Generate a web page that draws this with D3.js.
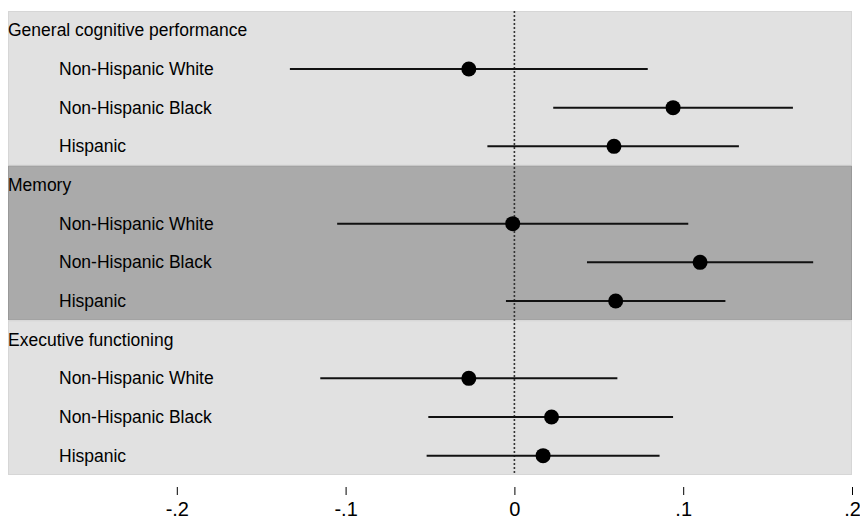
<!DOCTYPE html>
<html><head><meta charset="utf-8">
<script src="https://cdn.jsdelivr.net/npm/d3@7"></script>
<style>body{margin:0;background:#fff}svg{display:block}text{font-family:"Liberation Sans",Arial,sans-serif}</style>
</head><body><svg id="c" width="860" height="519"></svg>
<script>
const groups = ["General cognitive performance", "Memory", "Executive functioning"];
const races = ["Non-Hispanic White", "Non-Hispanic Black", "Hispanic"];
const estimates = [
  [-0.027, 0.094, 0.059],
  [-0.001, 0.110, 0.060],
  [-0.027, 0.022, 0.017]
];
const lower = [
  [-0.133, 0.023, -0.016],
  [-0.105, 0.043, -0.005],
  [-0.115, -0.051, -0.052]
];
const upper = [
  [0.079, 0.165, 0.133],
  [0.103, 0.177, 0.125],
  [0.061, 0.094, 0.086]
];
const tickValues = [-0.2, -0.1, 0, 0.1, 0.2];
const tickLabels = ["-.2", "-.1", "0", ".1", ".2"];
const panelFill = ["#e1e1e1", "#aaaaaa", "#e1e1e1"];
const panelStroke = ["#d6d6d6", "#999999", "#d6d6d6"];

const svg = d3.select("#c");
const pLeft = 8, pRight = 852, pTop = 11, pBottom = 475;
const x = d3.scaleLinear().domain([-0.3, 0.2]).range([pLeft, pRight]);
const rowsPerPanel = races.length + 1;
const nRows = groups.length * rowsPerPanel;
const y = d3.scaleBand().domain(d3.range(nRows)).range([pTop, pBottom]).paddingInner(0).paddingOuter(0);
const rowH = y.bandwidth();

groups.forEach((g, gi) => {
  const r0 = gi * rowsPerPanel;
  const py0 = y(r0), py1 = y(r0 + rowsPerPanel - 1) + rowH;
  svg.append("rect").attr("x", pLeft + 0.5).attr("y", py0 + 0.5)
    .attr("width", pRight - pLeft - 1).attr("height", py1 - py0 - 1)
    .attr("fill", panelFill[gi]).attr("stroke", panelStroke[gi]).attr("stroke-width", 1);
});

// zero line
svg.append("line").attr("x1", x(0)).attr("x2", x(0)).attr("y1", pTop).attr("y2", pBottom)
  .attr("stroke", "#333").attr("stroke-width", 1.6).attr("stroke-dasharray", "2,2");

groups.forEach((g, gi) => {
  const r0 = gi * rowsPerPanel;
  svg.append("text").attr("x", 8).attr("y", y(r0) + rowH / 2).attr("dy", "0.35em")
    .attr("font-size", 17.5).attr("fill", "#000").text(g);
  races.forEach((r, ri) => {
    const cy = y(r0 + 1 + ri) + rowH / 2;
    svg.append("text").attr("x", 59).attr("y", cy).attr("dy", "0.35em")
      .attr("font-size", 17.5).attr("fill", "#000").text(r);
    svg.append("line").attr("x1", x(lower[gi][ri])).attr("x2", x(upper[gi][ri]))
      .attr("y1", cy).attr("y2", cy).attr("stroke", "#111").attr("stroke-width", 2);
    svg.append("circle").attr("cx", x(estimates[gi][ri])).attr("cy", cy).attr("r", 7.5).attr("fill", "#000");
  });
});

const axis = d3.axisBottom(x).tickValues(tickValues).tickFormat((d, i) => tickLabels[i])
  .tickSize(8).tickPadding(7);
const ax = svg.append("g").attr("transform", `translate(0,${487})`).call(axis);
ax.select(".domain").remove();
ax.selectAll(".tick line").attr("stroke", "#000").attr("stroke-width", 1);
ax.selectAll(".tick text").attr("font-size", 20).attr("fill", "#000")
  .style("font-family", '"Liberation Sans",Arial,sans-serif');
</script></body></html>
